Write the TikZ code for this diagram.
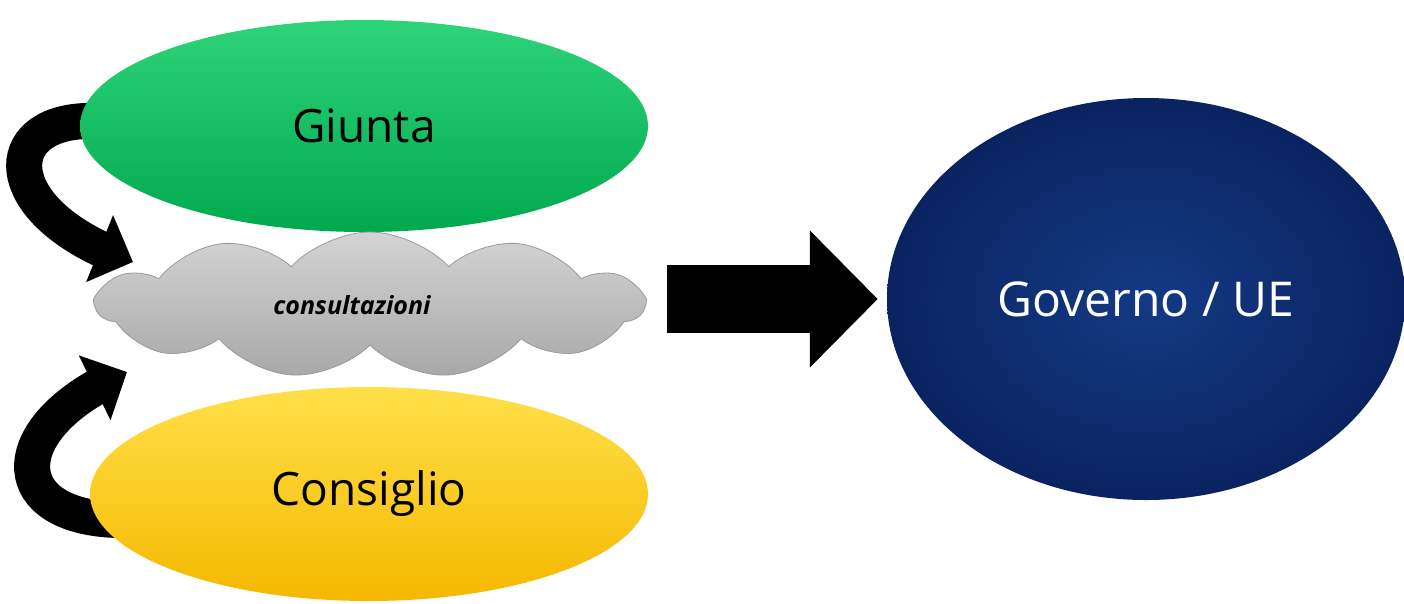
\documentclass[tikz,border=0pt]{standalone}
\usepackage{fontspec}
\setmainfont{Open Sans}
\usetikzlibrary{shapes.geometric,shapes.symbols,arrows.meta,calc,bending,backgrounds}
\definecolor{gtop}{HTML}{2FD47A}
\definecolor{gmid}{HTML}{00B356}
\definecolor{gbot}{HTML}{00A84E}
\definecolor{ytop}{HTML}{FFE04A}
\definecolor{ymid}{HTML}{FFC20E}
\definecolor{ybot}{HTML}{F5B800}
\definecolor{navyin}{HTML}{143A85}
\definecolor{navyout}{HTML}{0A2360}
\definecolor{cltop}{HTML}{D4D4D4}
\definecolor{clbot}{HTML}{A8A8A8}
\definecolor{cledge}{HTML}{9A9A9A}
\tikzset{
  blob/.style={ellipse, inner sep=0pt, draw=none},
  bigtext/.style={font=\fontsize{46}{52}\selectfont},
  curvearrow/.style={draw=black, line width=36pt,
     -{Triangle[length=36pt,width=70pt,flex]}},
  blockarrow/.style={draw=black, line width=68pt,
     -{Triangle[length=68pt,width=133pt]}},
}
\begin{document}
\begin{tikzpicture}[x=1pt,y=-1pt]
\useasboundingbox (0,0) rectangle (1404,603);
\node[blob, minimum width=568pt, minimum height=212pt,
      shade, top color=gtop, middle color=gmid, bottom color=gbot,
      bigtext] (giunta) at (364,126) {Giunta};
\node[blob, minimum width=558pt, minimum height=214pt,
      shade, top color=ytop, middle color=ymid, bottom color=ybot,
      bigtext] (consiglio) at (369,494) {Consiglio};
\node[blob, minimum width=518pt, minimum height=402pt,
      shade, inner color=navyin, outer color=navyout,
      text=white, font=\fontsize{48}{54}\selectfont] (gov) at (1146,299) {Governo / UE};
\node[cloud, cloud puffs=11, cloud puff arc=95, aspect=3.7,
      minimum width=546pt, minimum height=146pt, inner sep=0pt,
      draw=cledge, line width=0.8pt,
      shade, top color=cltop, bottom color=clbot,
      font=\fontsize{25}{30}\selectfont\bfseries\itshape] (cloud) at (370,305) {consultazioni\hspace*{36pt}};
\coordinate (t1) at (133,262);
\coordinate (t2) at (127,372);
\begin{scope}[on background layer]
\draw[curvearrow] ($(giunta.west)+(15,-5)$) .. controls (-5,118) and (-5,215) .. (t1);
\draw[curvearrow] ($(consiglio.west)+(40,26)$) .. controls (0,523) and (0,425) .. (t2);
\end{scope}
\draw[blockarrow, shorten <=21pt, shorten >=9pt] (cloud.east |- gov.west) -- (gov.west);
\end{tikzpicture}
\end{document}
